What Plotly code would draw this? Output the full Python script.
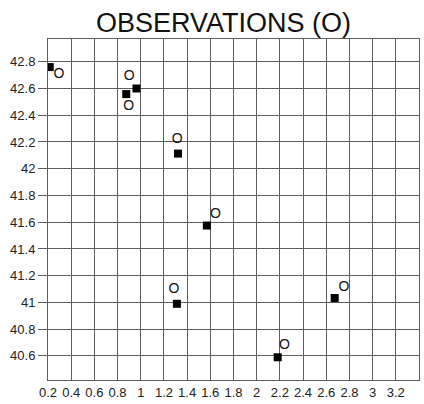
import plotly.graph_objects as go

# Station positions (black squares)
station_x = [0.215, 0.875, 0.963, 1.321, 1.570, 1.312, 2.673, 2.181]
station_y = [42.76, 42.558, 42.60, 42.113, 41.575, 40.99, 41.033, 40.59]

# Observation markers ("O")
obs_x = [0.294, 0.900, 0.895, 1.315, 1.644, 1.287, 2.753, 2.239]
obs_y = [42.708, 42.688, 42.468, 42.22, 41.657, 41.095, 41.112, 40.678]

x_ticks = [0.2, 0.4, 0.6, 0.8, 1, 1.2, 1.4, 1.6, 1.8, 2, 2.2, 2.4, 2.6, 2.8, 3, 3.2]
x_tick_labels = ["0.2", "0.4", "0.6", "0.8", "1", "1.2", "1.4", "1.6", "1.8", "2",
                 "2.2", "2.4", "2.6", "2.8", "3", "3.2"]
y_ticks = [40.6, 40.8, 41, 41.2, 41.4, 41.6, 41.8, 42, 42.2, 42.4, 42.6, 42.8]
y_tick_labels = ["40.6", "40.8", "41", "41.2", "41.4", "41.6", "41.8", "42",
                 "42.2", "42.4", "42.6", "42.8"]
top_ticks = [0.5, 1.5, 2.5]

x_range = [0.2, 3.4]
y_range = [40.42, 42.97]

grid_color = "#5e5e5e"
font_family = "Liberation Sans, Arial, sans-serif"

# plot area height in pixels, used to place the top tick marks just above the frame
plot_h_px = 404 - 39 - 22
px_to_y = (y_range[1] - y_range[0]) / plot_h_px
top_tick_len = 7

fig = go.Figure()

fig.add_trace(go.Scatter(
    x=station_x, y=station_y, mode="markers",
    marker=dict(symbol="square", size=8, color="black", line=dict(width=0)),
    hoverinfo="skip", showlegend=False,
))

fig.add_trace(go.Scatter(
    x=obs_x, y=obs_y, mode="text", text=["O"] * len(obs_x),
    textfont=dict(family=font_family, size=14, color="#111111"),
    hoverinfo="skip", showlegend=False,
))

# Short tick marks standing above the top frame edge
fig.add_trace(go.Scatter(
    x=top_ticks, y=[y_range[1] + px_to_y * top_tick_len / 2] * len(top_ticks),
    mode="markers", cliponaxis=False,
    marker=dict(symbol="line-ns", size=top_tick_len, line=dict(color=grid_color, width=1)),
    hoverinfo="skip", showlegend=False,
))

fig.update_layout(
    width=424, height=404,
    margin=dict(l=48, r=4, t=39, b=22),
    paper_bgcolor="white", plot_bgcolor="white",
    title=dict(text="OBSERVATIONS (O)", x=0.527, xanchor="center", y=0.945, yanchor="middle",
               font=dict(family=font_family, size=27, color="#111111")),
    xaxis=dict(
        range=x_range, tickmode="array", tickvals=x_ticks, ticktext=x_tick_labels,
        showgrid=True, gridcolor=grid_color, gridwidth=1,
        showline=True, linecolor=grid_color, linewidth=1, mirror=True,
        ticks="", zeroline=False,
        tickfont=dict(family=font_family, size=13, color="#222222"),
    ),
    yaxis=dict(
        range=y_range, tickmode="array", tickvals=y_ticks, ticktext=y_tick_labels,
        showgrid=True, gridcolor=grid_color, gridwidth=1,
        showline=True, linecolor=grid_color, linewidth=1, mirror=True,
        ticks="outside", ticklen=9, tickcolor=grid_color, zeroline=False,
        tickfont=dict(family=font_family, size=13, color="#222222"),
    ),
)

fig.write_html("out.html")
